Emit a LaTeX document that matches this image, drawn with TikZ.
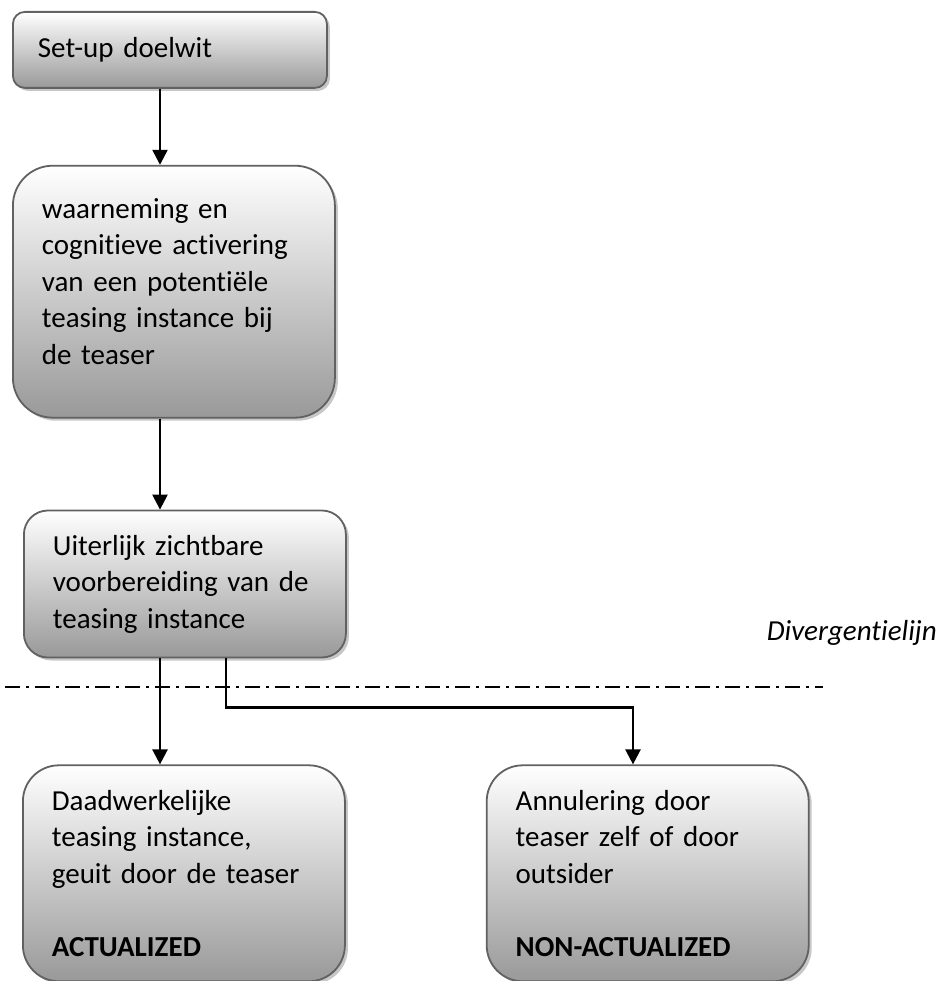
\documentclass[tikz,border=0pt]{standalone}
\usepackage{fontspec}
\setmainfont{Carlito}[Ligatures=NoCommon, WordSpace=0.8]
\usetikzlibrary{arrows.meta, positioning, shadows}
\tikzstyle{stage} = [rectangle, draw=black!62, line width=1.8pt, top color=white, bottom color=black!40, drop shadow={shadow xshift=3pt, shadow yshift=-3pt, fill=black!22, opacity=1}, align=left, text width=264pt, inner xsep=29pt, font=\fontsize{29}{36.5}\selectfont]
\tikzstyle{arrow} = [line width=2.4pt, -{Triangle[length=15pt, width=15pt]}]
\tikzstyle{divline} = [line width=2pt, dash pattern=on 15pt off 6pt on 3pt off 6pt]

\begin{document}
\begin{tikzpicture}
        \useasboundingbox (0,0) rectangle (942pt,-981pt);
        % stages of the teasing instance
        \node[stage, anchor=north west, minimum height=76pt, rounded corners=12pt, inner xsep=25pt] (setup) at (12pt,-11pt) {Set-up doelwit};
        \node[stage, below=76pt of setup.south west, anchor=north west, minimum height=252pt, rounded corners=40pt] (waarneming) {waarneming en\\cognitieve activering\\van een potentiële\\teasing instance bij\\de teaser\\[-16pt]\mbox{}};
        \node[stage, below=91pt of waarneming.south west, anchor=north west, xshift=11pt, minimum height=147pt, rounded corners=24pt] (uiterlijk) {Uiterlijk zichtbare\\voorbereiding van de\\teasing instance};
        \node[stage, below=106pt of uiterlijk.south west, anchor=north west, xshift=-1pt, minimum height=216pt, rounded corners=36pt] (actual) {Daadwerkelijke\\teasing instance,\\geuit door de teaser\\[36.5pt]\textbf{ACTUALIZED}};
        \node[stage, right=140pt of actual, minimum height=216pt, rounded corners=36pt] (nonactual) {Annulering door\\teaser zelf of door\\outsider\\[36.5pt]\textbf{NON-ACTUALIZED}};

        % divergence line
        \coordinate (divstart) at (5pt,-687pt);
        \coordinate (divend) at (823pt,-687pt);
        \draw[divline] (divstart) -- (divend);
        \node[anchor=base east, font=\fontsize{29}{36.5}\selectfont\itshape, inner sep=0pt] (divlabel) at (937pt,-640pt) {Divergentielijn};

        % connectors
        \coordinate (spine) at (160pt,0);
        \coordinate (split) at (226pt,0);
        \coordinate (branch) at (633pt,0);
        \draw[arrow] (setup.south -| spine) -- (waarneming.north -| spine);
        \draw[arrow] (waarneming.south -| spine) -- (uiterlijk.north -| spine);
        \draw[arrow] (uiterlijk.south -| spine) -- (actual.north -| spine);
        \draw[arrow] (uiterlijk.south -| split) -- ++(0,-49pt) -| (nonactual.north -| branch);
    \end{tikzpicture}
\end{document}
